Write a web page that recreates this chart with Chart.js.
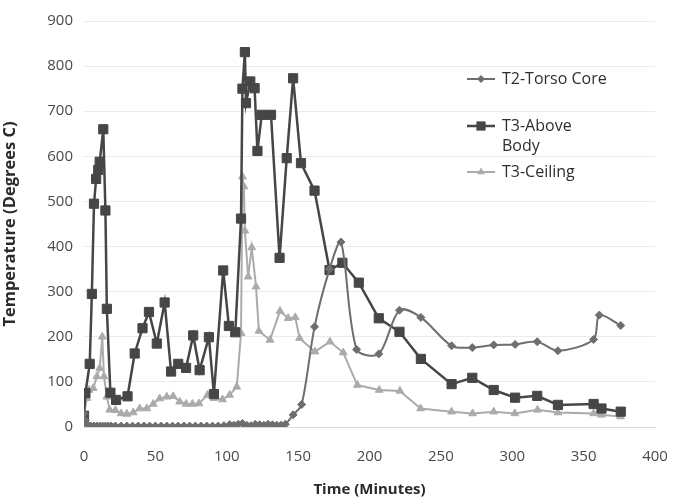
<!DOCTYPE html>
<html>
<head>
<meta charset="utf-8">
<script src="https://cdn.jsdelivr.net/npm/chart.js@4/dist/chart.umd.min.js"></script>
<style>
  html, body { margin: 0; padding: 0; background: #ffffff; }
  #wrap { position: relative; width: 673px; height: 499px; }
</style>
</head>
<body>
<div id="wrap"><canvas id="c" width="673" height="499"></canvas></div>
<script>
// ---- Data ----
const seriesNames = ['T2-Torso Core', 'T3-Above Body', 'T3-Ceiling'];
const xTicks = [0, 50, 100, 150, 200, 250, 300, 350, 400];
const yTicks = [0, 100, 200, 300, 400, 500, 600, 700, 800, 900];

const torsoTimes = [0, 1, 2, 3, 5, 7, 9, 11, 13, 15, 17, 19, 22, 26, 30, 34, 38, 42, 46, 50, 54, 58, 62, 66, 70, 74, 78, 82, 86, 90, 94, 98, 102, 105, 108, 111, 114, 117, 120, 123, 126, 129, 132, 135, 138, 141, 146.5, 152.5, 161.5, 172, 180, 191, 206.5, 221, 236, 257.5, 272, 287, 302, 317.5, 332, 357, 361, 376];
const torsoValues = [30, 15, 6, 3, 2, 2, 2, 2, 2, 2, 2, 2, 2, 2, 2, 2, 2, 2, 2, 2, 2, 2, 2, 2, 2, 2, 2, 2, 2, 2, 2, 3, 5, 4, 6, 8, 4, 3, 6, 5, 4, 6, 5, 4, 4, 6, 27, 50, 222, 350, 410, 172, 162, 259, 243, 180, 176, 182, 183, 189, 169, 194, 248, 225];

const aboveTimes = [0, 1, 4, 5.5, 7, 8.5, 10, 11, 13.5, 15, 16, 18.5, 22.5, 30.5, 35.5, 41, 45.5, 51, 56.5, 61, 66, 71.5, 76.5, 81, 87.5, 91, 97.5, 101.5, 106, 110, 111, 112.7, 113.5, 116.5, 119.5, 121.5, 124.5, 131, 137, 142, 146.5, 152, 161.5, 172, 181, 192.5, 206.5, 221, 236, 257.5, 272, 287, 302, 317.5, 332, 357, 362.5, 376];
const aboveValues = [25, 75, 140, 295, 495, 550, 570, 588, 660, 480, 262, 76, 60, 68, 163, 219, 255, 185, 276, 123, 140, 131, 203, 126, 199, 73, 347, 224, 210, 462, 750, 831, 718, 766, 751, 612, 692, 692, 375, 596, 773, 585, 524, 348, 364, 320, 241, 211, 151, 95, 109, 82, 65, 69, 49, 51, 41, 34];

const ceilingTimes = [0, 2, 3.5, 6.5, 9, 11, 12.8, 14, 16, 18, 22, 26, 30, 34.5, 39, 44, 48.5, 53, 58, 62.5, 67, 71.5, 76, 80.5, 86.5, 91, 97, 102, 107, 110, 111, 112, 112.7, 115, 117.5, 120.5, 122.5, 130.3, 137.3, 143, 148, 151, 161.8, 172.3, 181.6, 191.5, 206.8, 221.3, 235.8, 257.5, 272.2, 287, 301.8, 317.7, 332, 357, 362.5, 375.8];
const ceilingValues = [27, 64, 82, 86, 112, 130, 200, 112, 67, 38, 37, 30, 29, 32, 41, 41, 51, 63, 67, 68, 56, 51, 51, 52, 71, 64, 61, 71, 89, 208, 555, 533, 435, 333, 398, 311, 213, 193, 257, 241, 243, 197, 167, 189, 165, 93, 82, 80, 41, 34, 30, 34, 30, 38, 32, 30, 27, 23];

function pts(ts, vs) { return ts.map((t, i) => ({ x: t, y: vs[i] })); }

const styles = [
  { color: '#6e6e6e', point: 'rectRot', radius: 4, width: 2, tension: 0.3 },
  { color: '#464646', point: 'rect', radius: 6.5, width: 2.5, tension: 0 },
  { color: '#ababab', point: 'triangle', radius: 4.5, width: 2, tension: 0 }
];
const dataSets = [pts(torsoTimes, torsoValues), pts(aboveTimes, aboveValues), pts(ceilingTimes, ceilingValues)];

const FONT = '"Open Sans", "DejaVu Sans", sans-serif';

const legendPlugin = {
  id: 'insideLegend',
  afterDraw(chart) {
    const ctx = chart.ctx;
    const items = [
      { lines: ['T2-Torso Core'], y: 79, s: styles[0] },
      { lines: ['T3-Above', 'Body'], y: 126, s: styles[1] },
      { lines: ['T3-Ceiling'], y: 172, s: styles[2] }
    ];
    ctx.save();
    items.forEach(it => {
      ctx.strokeStyle = it.s.color;
      ctx.lineWidth = it.s.width;
      ctx.beginPath();
      ctx.moveTo(467, it.y);
      ctx.lineTo(495, it.y);
      ctx.stroke();
      ctx.fillStyle = it.s.color;
      const cx = 481, cy = it.y, r = it.s.radius;
      ctx.beginPath();
      if (it.s.point === 'rect') {
        const h = r * Math.SQRT1_2;
        ctx.rect(cx - h, cy - h, 2 * h, 2 * h);
      } else if (it.s.point === 'rectRot') {
        ctx.moveTo(cx - r, cy); ctx.lineTo(cx, cy - r); ctx.lineTo(cx + r, cy); ctx.lineTo(cx, cy + r); ctx.closePath();
      } else {
        ctx.moveTo(cx, cy - r); ctx.lineTo(cx + r * 0.866, cy + r * 0.5); ctx.lineTo(cx - r * 0.866, cy + r * 0.5); ctx.closePath();
      }
      ctx.fill();
      ctx.fillStyle = '#2e2e2e';
      ctx.font = '16px ' + FONT;
      ctx.textBaseline = 'middle';
      ctx.textAlign = 'left';
      it.lines.forEach((ln, k) => ctx.fillText(ln, 502, it.y + k * 20));
    });
    ctx.restore();
  }
};

new Chart(document.getElementById('c'), {
  type: 'line',
  data: {
    datasets: dataSets.map((d, i) => ({
      label: seriesNames[i],
      data: d,
      borderColor: styles[i].color,
      backgroundColor: styles[i].color,
      pointBackgroundColor: styles[i].color,
      pointBorderColor: styles[i].color,
      pointStyle: styles[i].point,
      pointRadius: styles[i].radius,
      pointBorderWidth: 1,
      borderWidth: styles[i].width,
      tension: styles[i].tension,
      fill: false
    }))
  },
  options: {
    responsive: false,
    animation: false,
    events: [],
    layout: { padding: { left: 0, right: 18, top: 21, bottom: 0 } },
    plugins: { legend: { display: false }, tooltip: { enabled: false } },
    scales: {
      x: {
        type: 'linear',
        min: 0, max: 400,
        afterBuildTicks: (ax) => { ax.ticks = xTicks.map(v => ({ value: v })); },
        afterFit: (ax) => { ax.height = 72; ax.paddingLeft = 0; ax.paddingRight = 0; },
        grid: { display: false, drawTicks: false },
        border: { display: true, color: '#dcdcdc', width: 1 },
        ticks: { color: '#4a4a4a', font: { family: FONT, size: 15 }, padding: 21, maxRotation: 0 },
        title: { display: true, text: 'Time (Minutes)', color: '#2a2a2a', font: { family: FONT, size: 15, weight: 'bold' }, padding: { top: 2, bottom: 0 } }
      },
      y: {
        min: 0, max: 900,
        afterBuildTicks: (ax) => { ax.ticks = yTicks.map(v => ({ value: v })); },
        afterFit: (ax) => { ax.width = 84; ax.paddingTop = 0; ax.paddingBottom = 0; },
        grid: { color: '#ebebeb', lineWidth: 1, drawTicks: false },
        border: { display: false },
        ticks: { color: '#4a4a4a', font: { family: FONT, size: 15 }, padding: 11 },
        title: { display: true, text: 'Temperature (Degrees C)', color: '#2a2a2a', font: { family: FONT, size: 16.5, weight: 'bold' }, padding: { top: 0, bottom: 0 } }
      }
    }
  },
  plugins: [legendPlugin]
});
</script>
</body>
</html>
